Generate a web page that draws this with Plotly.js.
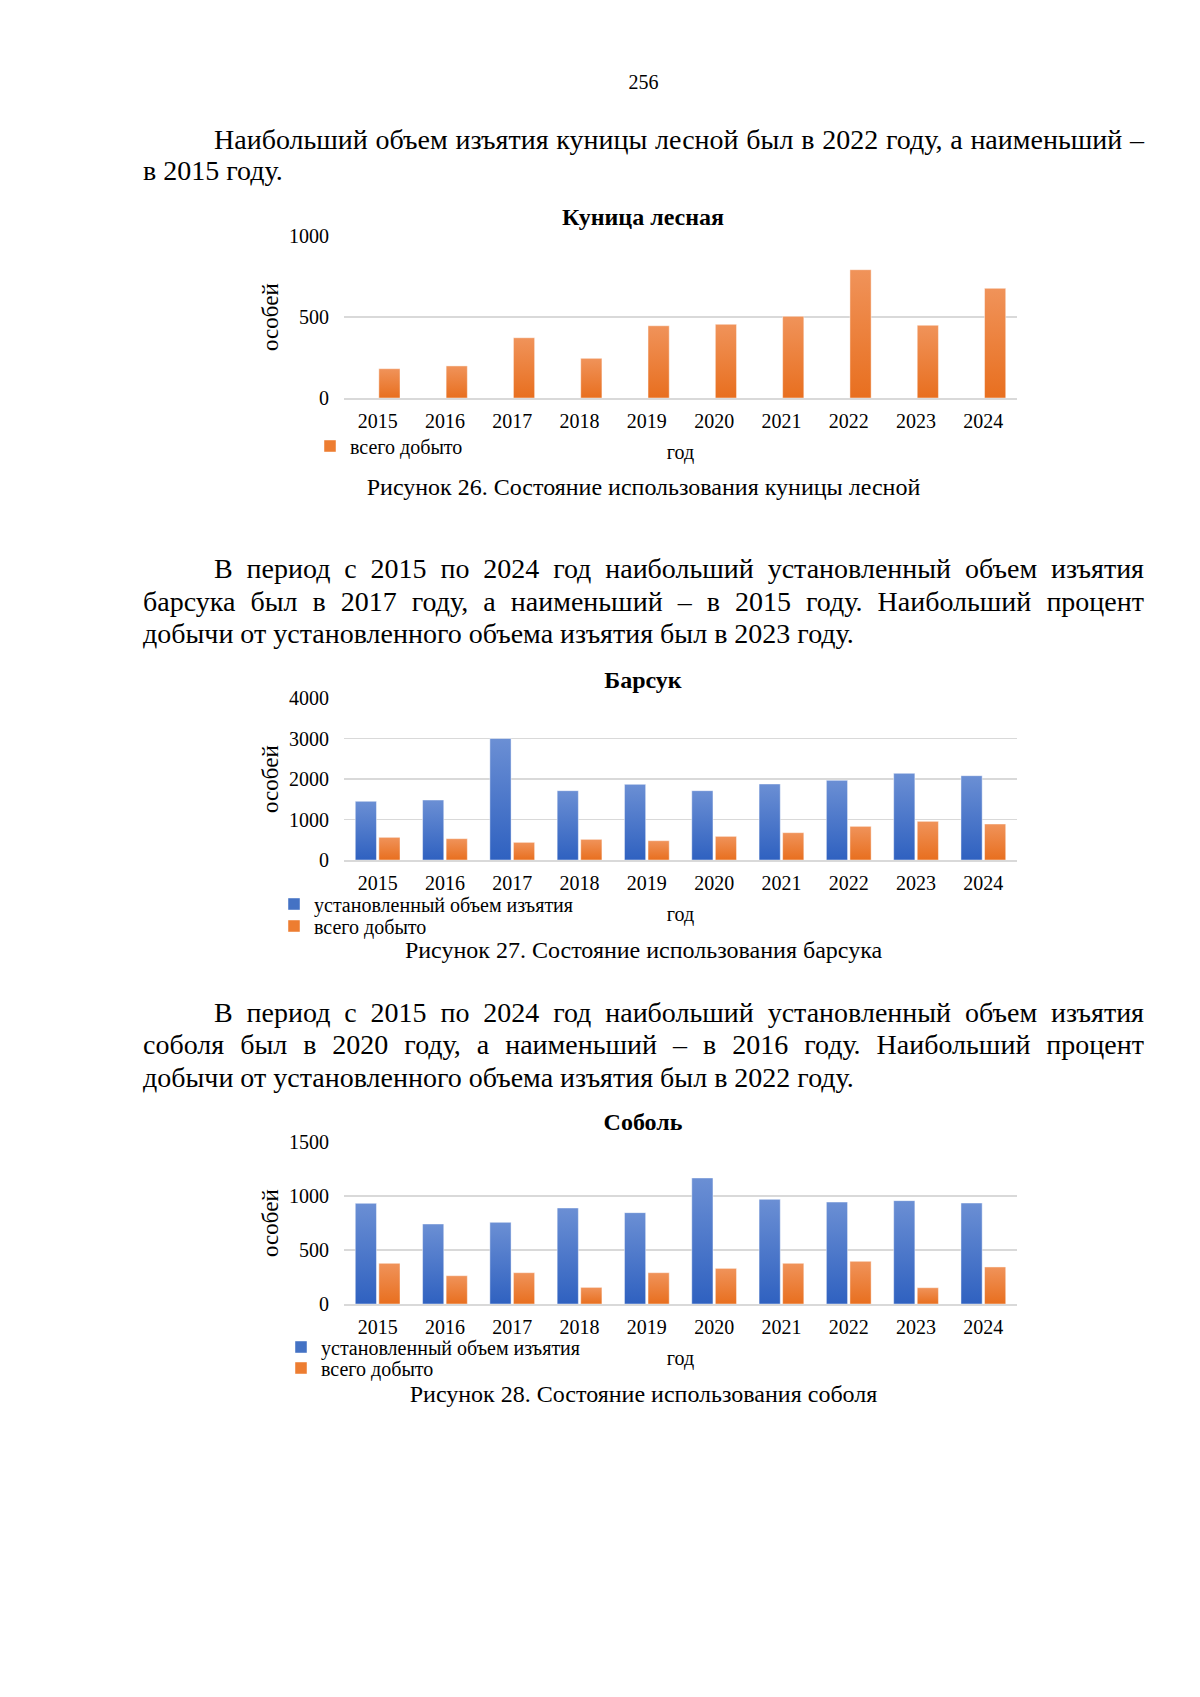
<!DOCTYPE html>
<html lang="ru">
<head>
<meta charset="utf-8">
<script src="https://cdn.plot.ly/plotly-3.0.1.min.js"></script>
<style>
  html, body { margin:0; padding:0; background:#fff; }
  body { width:1200px; height:1697px; position:relative; overflow:hidden;
         font-family:"Liberation Serif","Times New Roman",serif; color:#000; }
  .ln { position:absolute; font-size:28px; line-height:32px; height:32px; text-align:justify; }
  .full { text-align-last:justify; }
  .cap { position:absolute; left:143px; width:1001px; text-align:center; font-size:24px; line-height:28px; }
  .chart { position:absolute; left:0; width:1200px; }
</style>
</head>
<body>
<svg width="0" height="0" style="position:absolute">
  <defs>
    <linearGradient id="gBlue" x1="0" y1="0" x2="0" y2="1">
      <stop offset="0" stop-color="#6b8fd4"/>
      <stop offset="1" stop-color="#2f61c0"/>
    </linearGradient>
    <linearGradient id="gOrange" x1="0" y1="0" x2="0" y2="1">
      <stop offset="0" stop-color="#f0935a"/>
      <stop offset="1" stop-color="#e86f1f"/>
    </linearGradient>
  </defs>
</svg>

<div class="ln" style="left:143px;width:1001px;text-align:center;font-size:20px;top:66px;">256</div>

<div class="ln full" style="left:214px;width:930px;top:124px;">Наибольший объем изъятия куницы лесной был в 2022 году, а наименьший –</div>
<div class="ln" style="left:143px;width:1001px;top:155px;">в 2015 году.</div>

<div class="chart" id="c1" style="top:190px;height:290px;"></div>
<div class="cap" style="top:473px;">Рисунок 26. Состояние использования куницы лесной</div>

<div class="ln full" style="left:214px;width:930px;top:553px;">В период с 2015 по 2024 год наибольший установленный объем изъятия</div>
<div class="ln full" style="left:143px;width:1001px;top:586px;">барсука был в 2017 году, а наименьший – в 2015 году. Наибольший процент</div>
<div class="ln" style="left:143px;width:1001px;top:618px;">добычи от установленного объема изъятия был в 2023 году.</div>

<div class="chart" id="c2" style="top:660px;height:280px;"></div>
<div class="cap" style="top:936px;">Рисунок 27. Состояние использования барсука</div>

<div class="ln full" style="left:214px;width:930px;top:997px;">В период с 2015 по 2024 год наибольший установленный объем изъятия</div>
<div class="ln full" style="left:143px;width:1001px;top:1029px;">соболя был в 2020 году, а наименьший – в 2016 году. Наибольший процент</div>
<div class="ln" style="left:143px;width:1001px;top:1062px;">добычи от установленного объема изъятия был в 2022 году.</div>

<div class="chart" id="c3" style="top:1100px;height:282px;"></div>
<div class="cap" style="top:1380px;">Рисунок 28. Состояние использования соболя</div>

<script>
// ---- data ----
const years = ['2015','2016','2017','2018','2019','2020','2021','2022','2023','2024'];
const martenTotal = [181, 198, 372, 245, 446, 455, 504, 792, 449, 677];
const badgerQuota = [1449, 1481, 3000, 1712, 1868, 1712, 1877, 1967, 2140, 2082];
const badgerTotal = [560, 527, 436, 510, 477, 584, 675, 831, 955, 889];
const sableQuota = [932, 741, 756, 889, 846, 1167, 969, 944, 957, 935];
const sableTotal = [377, 262, 290, 154, 290, 330, 377, 395, 151, 343];
const nameQuota = 'установленный объем изъятия';
const nameTotal = 'всего добыто';
const yTitle = 'особей';
const xTitle = 'год';

// ---- styles ----
const FONT = '"Liberation Serif","Times New Roman",serif';
const BLUE = '#4472c4', ORANGE = '#ed7d31';
const GRID = '#d9d9d9';
const PL = 344, PR = 1017;   // plot area left/right in page px

function quotaTrace(y) {
  return {type:'bar', x:years, y:y, name:nameQuota, width:0.315, offset:-0.3325,
          marker:{color:BLUE, line:{color:'rgba(255,255,255,0.45)', width:1}},
          hoverinfo:'skip', legend:'legend', showlegend:true, _grad:'gBlue'};
}
function totalTrace(y, leg) {
  return {type:'bar', x:years, y:y, name:nameTotal, width:0.315, offset:0.0175,
          marker:{color:ORANGE, line:{color:'rgba(255,255,255,0.45)', width:1}},
          hoverinfo:'skip', legend:leg, showlegend:true, _grad:'gOrange'};
}

function legendAt(x, yPx, H) {
  return {x:x/1200, xanchor:'left', xref:'container',
          y:1 - yPx / H, yanchor:'middle', yref:'container',
          font:{family:FONT, size:20, color:'#000'}, bgcolor:'rgba(0,0,0,0)',
          itemwidth:30, traceorder:'normal'};
}

function layoutFor(o) {
  const H = o.height;
  const lay = {
    width:1200, height:H,
    margin:{l:PL, r:1200 - PR, t:o.plotTop, b:H - o.plotBottom, pad:0, autoexpand:false},
    paper_bgcolor:'rgba(0,0,0,0)', plot_bgcolor:'rgba(0,0,0,0)',
    font:{family:FONT, size:20, color:'#000'},
    title:{text:'<b>' + o.title + '</b>', font:{family:FONT, size:24, color:'#000'},
           x:643/1200, xanchor:'center', xref:'container',
           y:1 - o.titleY / H, yanchor:'middle', yref:'container', automargin:false},
    barmode:'overlay',
    showlegend:true,
    legend:legendAt(o.legX, o.legY1, H),
    xaxis:{type:'category', showgrid:false, showline:true, linecolor:GRID, linewidth:1.5,
           ticks:'', ticklabelstandoff:4, tickangle:0, tickfont:{family:FONT, size:20, color:'#000'},
           title:{text:xTitle, font:{family:FONT, size:20, color:'#000'}, standoff:14},
           fixedrange:true, automargin:false},
    yaxis:{range:[0, o.ymax], tick0:0, dtick:o.dtick, showgrid:true, gridcolor:GRID, gridwidth:1.5,
           zeroline:false, showline:false, ticks:'', ticklabelstandoff:14,
           tickfont:{family:FONT, size:20, color:'#000'},
           fixedrange:true, automargin:false},
    annotations:[{
      text:yTitle, textangle:-90, showarrow:false,
      xref:'paper', x:(270 - PL) / (PR - PL), xanchor:'center',
      yref:'paper', y:0.5, yanchor:'middle',
      font:{family:FONT, size:23, color:'#000'}
    }]
  };
  if (o.legY2 !== undefined) lay.legend2 = legendAt(o.legX, o.legY2, H);
  return lay;
}

function applyGrad(gd, traces) {
  const groups = gd.querySelectorAll('.barlayer .trace');
  groups.forEach((g, i) => {
    const t = traces[i];
    if (!t) return;
    g.querySelectorAll('.point path').forEach(p => {
      p.style.fill = 'url(#' + t._grad + ')';
      p.style.fillOpacity = 1;
    });
  });
}

function draw(id, traces, o) {
  const data = traces.map(t => { const c = Object.assign({}, t); delete c._grad; return c; });
  Plotly.newPlot(id, data, layoutFor(o), {staticPlot:true, displayModeBar:false})
    .then(gd => applyGrad(gd, traces));
}

draw('c1', [totalTrace(martenTotal, 'legend')],
     {height:290, plotTop:46, plotBottom:208, title:'Куница лесная', titleY:27,
      legX:310, legY1:256, ymax:1000, dtick:500});

draw('c2', [quotaTrace(badgerQuota), totalTrace(badgerTotal, 'legend2')],
     {height:280, plotTop:38, plotBottom:200, title:'Барсук', titleY:20,
      legX:274, legY1:244, legY2:266, ymax:4000, dtick:1000});

draw('c3', [quotaTrace(sableQuota), totalTrace(sableTotal, 'legend2')],
     {height:282, plotTop:41.5, plotBottom:204, title:'Соболь', titleY:22,
      legX:281, legY1:247, legY2:268, ymax:1500, dtick:500});
</script>
</body>
</html>
